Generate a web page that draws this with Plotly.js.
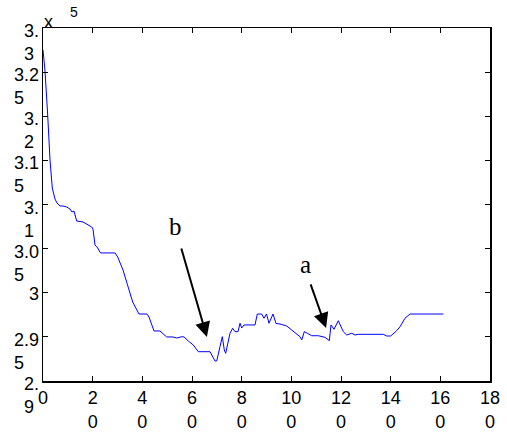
<!DOCTYPE html>
<html>
<head>
<meta charset="utf-8">
<script src="https://cdn.plot.ly/plotly-3.0.1.min.js"></script>
<style>html,body{margin:0;padding:0;background:#fff;}#chart{width:507px;height:432px;}</style>
</head>
<body>
<div id="chart"></div>
<script>
// x values (iteration) and y values (in units of 10^5)
const xVals = [0,0.81,1.89,2.82,3.74,4.83,5.64,6.85,8.05,9.54,10.87,11.68,12.48,12.89,13.57,16.11,18.12,19.61,20.13,20.94,22.03,23.15,28.99,30.08,32.21,34.23,36.12,38.66,41.88,42.68,44.70,47.11,49.81,52.35,53.84,55.85,56.78,58.51,60.52,62.54,67.25,69.26,69.95,71.27,72.20,73.01,73.57,75.30,76.39,77.31,78.52,79.33,80.01,80.94,85.37,86.29,88.07,88.99,90.0,91.0,92.62,93.82,95.44,98.13,100.15,101.48,103.49,104.17,105.22,106.43,108.20,110.86,113.55,115.29,115.97,117.18,118.91,120.93,122.29,124.31,125.64,126.97,137.03,138.40,140.01,142.43,143.76,145.77,147.78,161.2];
const yVals = [3.2751,3.2513,3.2014,3.1504,3.1187,3.1062,3.1017,3.0983,3.0983,3.0972,3.0949,3.0915,3.0926,3.0892,3.0813,3.0802,3.0768,3.0745,3.0722,3.0541,3.0507,3.0451,3.0451,3.0405,3.0258,3.0065,2.9895,2.9759,2.9759,2.9725,2.9567,2.9567,2.9499,2.9499,2.9487,2.9502,2.9499,2.9453,2.9408,2.9332,2.9332,2.9227,2.9227,2.9389,2.9502,2.9351,2.9314,2.9541,2.9597,2.9559,2.9559,2.9654,2.9601,2.9635,2.9635,2.9759,2.9759,2.9711,2.9759,2.9654,2.9759,2.9652,2.9646,2.9623,2.9578,2.9541,2.9502,2.9465,2.9559,2.9541,2.9513,2.9513,2.9495,2.9457,2.9635,2.9586,2.9683,2.9559,2.9521,2.9541,2.9521,2.9529,2.9529,2.9510,2.9510,2.9570,2.9615,2.9711,2.9759,2.9759];

const xTickVals = [0,20,40,60,80,100,120,140,160,180];
const xTickText = ["0","2<br>0","4<br>0","6<br>0","8<br>0","10<br>0","12<br>0","14<br>0","16<br>0","18<br>0"];
const yTickVals = [2.9,2.95,3,3.05,3.1,3.15,3.2,3.25,3.3];
const yTickText = ["2.<br>9","2.9<br>5","3","3.0<br>5","3.<br>1","3.1<br>5","3.<br>2","3.2<br>5","3.<br>3"];

// annotated points: [label, x, y]
const markLabels = ["b","a"];
const markX = [66.0, 114.0];
const markY = [2.9499, 2.9601];

const FONT = "'Liberation Sans', Arial, Helvetica, sans-serif";
const SERIF = "'Liberation Serif', 'Times New Roman', serif";

const annotations = [];
yTickVals.forEach((v,i)=>{
  annotations.push({
    xref:'paper', yref:'y', x:-0.005, y:v,
    text:yTickText[i], showarrow:false,
    xanchor:'right', yanchor: yTickText[i].indexOf('<br>')>=0 ? 'top':'middle',
    yshift: yTickText[i].indexOf('<br>')>=0 ? 9 : -1,
    align:'left', font:{family:FONT,size:18,color:'#000'}
  });
});
annotations.push({xref:'paper',yref:'paper',x:0.012,y:1.0,text:'x',showarrow:false,
  xanchor:'center',yanchor:'bottom',yshift:-6,font:{family:FONT,size:18,color:'#000'}});
annotations.push({xref:'paper',yref:'paper',x:0.069,y:1.0,text:'5',showarrow:false,
  xanchor:'center',yanchor:'bottom',yshift:6,font:{family:FONT,size:14,color:'#000'}});

const arrowTails = [[-26,-90],[-16,-45]];
markLabels.forEach((lab,i)=>{
  annotations.push({
    xref:'x', yref:'y', x:markX[i], y:markY[i], text:'', showarrow:true,
    ax:arrowTails[i][0], ay:arrowTails[i][1],
    arrowhead:2, arrowsize:1.5, arrowwidth:2, arrowcolor:'#000', standoff:0
  });
  annotations.push({
    xref:'x', yref:'y', x:markX[i], y:markY[i], text:lab, showarrow:false,
    xshift: i===0 ? -31 : -21, yshift: i===0 ? 110 : 63,
    xanchor:'center', yanchor:'middle',
    font:{family:SERIF,size:25,color:'#000'}
  });
});

const trace = {
  x:xVals, y:yVals, type:'scatter', mode:'lines',
  line:{color:'#0000ff', width:1}, hoverinfo:'skip'
};

const axisCommon = {
  showline:true, linecolor:'#000', linewidth:1.5, mirror:'ticks',
  ticks:'inside', ticklen:5, tickwidth:1, tickcolor:'#000',
  showgrid:false, zeroline:false
};

const layout = {
  width:507, height:432,
  margin:{l:43, r:17, t:28, b:51, pad:0},
  paper_bgcolor:'#fff', plot_bgcolor:'#fff',
  showlegend:false,
  font:{family:FONT, size:18, color:'#000'},
  xaxis: Object.assign({}, axisCommon, {
    range:[0,180], tickmode:'array', tickvals:xTickVals, ticktext:xTickText,
    tickfont:{family:FONT,size:18,color:'#000'}, ticklabelstandoff:0
  }),
  yaxis: Object.assign({}, axisCommon, {
    range:[2.9,3.3], tickmode:'array', tickvals:yTickVals, showticklabels:false
  }),
  annotations: annotations
};

Plotly.newPlot('chart', [trace], layout, {staticPlot:true, displayModeBar:false});
</script>
</body>
</html>
